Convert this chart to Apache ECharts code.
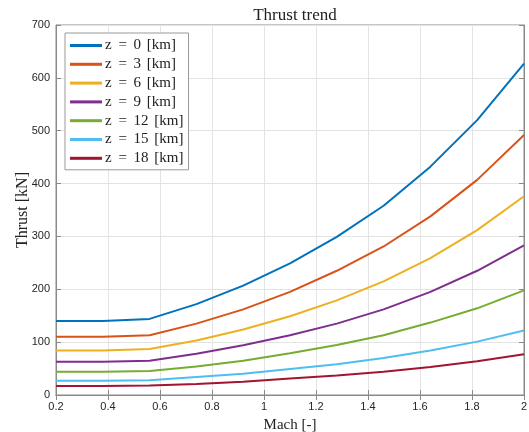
<!DOCTYPE html>
<html>
<head>
<meta charset="utf-8">
<script src="https://cdn.jsdelivr.net/npm/echarts@6/dist/echarts.min.js"></script>
<style>html,body{margin:0;padding:0;background:#fff}#c{width:529px;height:432px}</style>
</head>
<body>
<div id="c"></div>
<script>
var mach = [0.2, 0.38, 0.56, 0.74, 0.92, 1.1, 1.28, 1.46, 1.64, 1.82, 2.0];
var seriesNames = ['z = 0 [km]', 'z = 3 [km]', 'z = 6 [km]', 'z = 9 [km]', 'z = 12 [km]', 'z = 15 [km]', 'z = 18 [km]'];
var thrust_z0  = [140, 140, 144, 172, 207, 249, 299, 358, 432, 520, 627];
var thrust_z3  = [110, 110, 113, 135, 162, 195, 235, 281, 338, 407, 492];
var thrust_z6  = [84, 84, 87, 103, 124, 149, 179, 215, 259, 312, 376];
var thrust_z9  = [63, 63, 65, 78, 94, 113, 135, 162, 195, 235, 283];
var thrust_z12 = [44, 44, 45.5, 54, 65, 79, 94.5, 113, 137, 164, 198];
var thrust_z15 = [27, 27, 28, 34, 40, 49, 58, 70, 84, 101, 122];
var thrust_z18 = [17, 17, 18, 21, 25, 31, 37, 44, 53, 64, 77];
var xTicks = [0.2, 0.4, 0.6, 0.8, 1, 1.2, 1.4, 1.6, 1.8, 2];
var yTicks = [0, 100, 200, 300, 400, 500, 600, 700];

var allData = [thrust_z0, thrust_z3, thrust_z6, thrust_z9, thrust_z12, thrust_z15, thrust_z18];
var colors = ['#0072BD', '#D95319', '#EDB120', '#7E2F8E', '#77AC30', '#4DBEEE', '#A2142F'];
var serif = 'Liberation Serif';
var sans = 'Liberation Sans';
var axisCol = '#8a8a8a';

var series = allData.map(function (d, i) {
  return {
    name: seriesNames[i],
    type: 'line',
    data: d.map(function (v, j) { return [mach[j], v]; }),
    showSymbol: false,
    symbol: 'none',
    lineStyle: { width: 2, color: colors[i] },
    itemStyle: { color: colors[i] },
    xAxisIndex: 0, yAxisIndex: 0,
    animation: false
  };
});

var chart = echarts.init(document.getElementById('c'));
chart.setOption({
  animation: false,
  backgroundColor: '#fff',
  title: {
    text: 'Thrust trend', left: 290, textAlign: 'center', top: 2,
    textStyle: { fontFamily: serif, fontSize: 17, fontWeight: 'normal', color: '#222' }
  },
  grid: { left: 56, right: 5, top: 25, bottom: 37, outerBoundsMode: 'none', containLabel: false,
    show: true, borderColor: axisCol, borderWidth: 1, backgroundColor: '#fff' },
  legend: {
    orient: 'vertical', left: 65, top: 33,
    data: seriesNames,
    icon: 'rect', itemWidth: 32, itemHeight: 3, itemGap: 3.8,
    backgroundColor: '#fff', borderColor: '#999', borderWidth: 1,
    padding: [5, 5, 4, 5],
    formatter: function (name) { return name.replace('=', '{e|=}').replace(/ (\d+) /, ' {n|$1} '); },
    textStyle: {
      fontFamily: serif, fontSize: 15, color: '#222', lineHeight: 15, padding: [0, 0, 0, -2],
      rich: {
        e: { fontFamily: serif, fontSize: 15, color: '#222', padding: [0, 3, 0, 3] },
        n: { fontFamily: serif, fontSize: 15, color: '#222', padding: [0, 2, 0, 0] }
      }
    }
  },
  xAxis: [{
    type: 'value', min: 0.2, max: 2, interval: 0.2,
    name: 'Mach [-]', nameLocation: 'middle', nameGap: 23, nameMoveOverlap: false,
    nameTextStyle: { fontFamily: serif, fontSize: 15, color: '#222' },
    axisLine: { show: true, lineStyle: { color: axisCol } },
    axisTick: { show: true, inside: true, length: 5, lineStyle: { color: axisCol } },
    axisLabel: { fontFamily: sans, fontSize: 11, color: '#262626', margin: 6,
      formatter: function (v) { return String(Math.round(v * 10) / 10); } },
    splitLine: { show: true, lineStyle: { color: '#e3e3e3', width: 1 } }
  }, {
    type: 'value', min: 0.2, max: 2, interval: 0.2, position: 'top',
    axisLine: { show: true, lineStyle: { color: axisCol } },
    axisTick: { show: true, inside: true, length: 5, lineStyle: { color: axisCol } },
    axisLabel: { show: false }, splitLine: { show: false }
  }],
  yAxis: [{
    type: 'value', min: 0, max: 700, interval: 100,
    name: 'Thrust [kN]', nameLocation: 'middle', nameGap: 25, nameMoveOverlap: false,
    nameTextStyle: { fontFamily: serif, fontSize: 16, color: '#222' },
    axisLine: { show: true, lineStyle: { color: axisCol } },
    axisTick: { show: true, inside: true, length: 5, lineStyle: { color: axisCol } },
    axisLabel: { fontFamily: sans, fontSize: 11, color: '#262626', margin: 6 },
    splitLine: { show: true, lineStyle: { color: '#e3e3e3', width: 1 } }
  }, {
    type: 'value', min: 0, max: 700, interval: 100, position: 'right',
    axisLine: { show: true, lineStyle: { color: axisCol } },
    axisTick: { show: true, inside: true, length: 5, lineStyle: { color: axisCol } },
    axisLabel: { show: false }, splitLine: { show: false }
  }],
  series: series
});
</script>
</body>
</html>
